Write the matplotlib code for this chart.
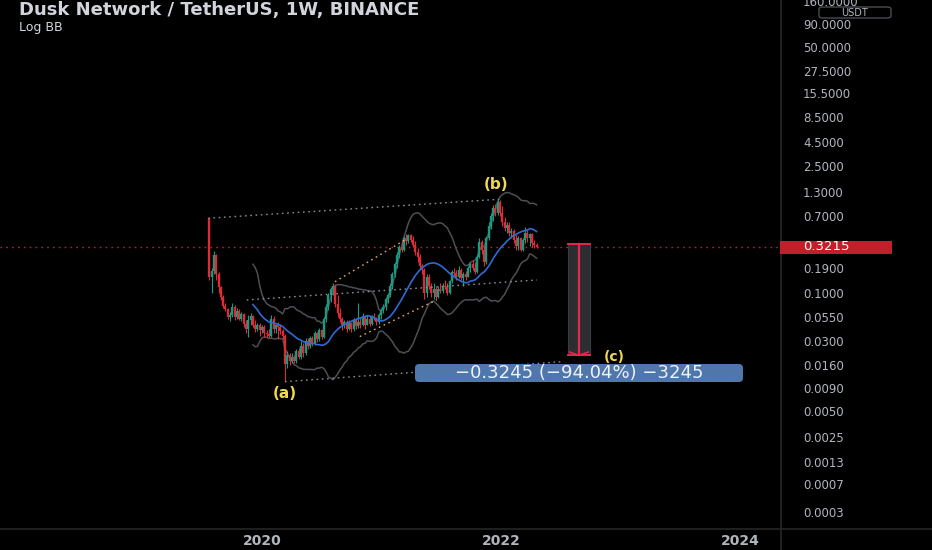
import numpy as np
import pandas as pd
import matplotlib
matplotlib.use("Agg")
import matplotlib.pyplot as plt
import matplotlib.dates as mdates
from matplotlib.patches import Rectangle, FancyBboxPatch
from matplotlib.lines import Line2D

# ---------------- data (weekly DUSK/USDT) ----------------
first_week = "2019-07-22"
first_open = 0.66
close = [0.150, 0.175, 0.26, 0.16, 0.115, 0.09, 0.072, 0.066, 0.054, 0.058,
         0.07, 0.054, 0.063, 0.052, 0.059, 0.046, 0.04, 0.05, 0.056, 0.045,
         0.04, 0.045, 0.039, 0.042, 0.036, 0.035, 0.034, 0.052, 0.04, 0.044,
         0.042, 0.038, 0.034, 0.0165, 0.021, 0.018, 0.02, 0.018, 0.023, 0.02,
         0.026, 0.022, 0.03, 0.026, 0.032, 0.028, 0.036, 0.031, 0.039, 0.033,
         0.052, 0.07, 0.095, 0.11, 0.12, 0.075, 0.06, 0.052, 0.044, 0.048,
         0.04, 0.047, 0.04, 0.05, 0.043, 0.048, 0.045, 0.055, 0.045, 0.052,
         0.046, 0.055, 0.053, 0.048, 0.058, 0.065, 0.07, 0.085, 0.095, 0.12,
         0.16, 0.21, 0.26, 0.32, 0.30, 0.40, 0.37, 0.43, 0.38, 0.34,
         0.28, 0.25, 0.20, 0.18, 0.10, 0.15, 0.12, 0.10, 0.11, 0.09,
         0.11, 0.105, 0.12, 0.115, 0.10, 0.135, 0.17, 0.165, 0.15, 0.18,
         0.145, 0.16, 0.15, 0.19, 0.21, 0.19, 0.17, 0.25, 0.36, 0.30,
         0.22, 0.40, 0.55, 0.70, 0.85, 0.75, 1.00, 0.75, 0.60, 0.52,
         0.56, 0.45, 0.48, 0.38, 0.33, 0.40, 0.30, 0.38, 0.46, 0.40,
         0.44, 0.35, 0.34, 0.3215]
high = [0.67, 0.19, 0.29, 0.27, 0.17, 0.12, 0.095, 0.078, 0.068, 0.062,
        0.077, 0.073, 0.068, 0.066, 0.062, 0.06, 0.05, 0.058, 0.06, 0.058,
        0.05, 0.047, 0.047, 0.044, 0.044, 0.039, 0.04, 0.058, 0.056, 0.046,
        0.048, 0.046, 0.04, 0.035, 0.023, 0.022, 0.022, 0.021, 0.024, 0.025,
        0.03, 0.028, 0.032, 0.032, 0.034, 0.034, 0.038, 0.037, 0.041, 0.04,
        0.055, 0.075, 0.1, 0.115, 0.13, 0.125, 0.095, 0.068, 0.055, 0.05,
        0.05, 0.05, 0.048, 0.053, 0.052, 0.078, 0.055, 0.06, 0.058, 0.057,
        0.056, 0.058, 0.06, 0.055, 0.06, 0.068, 0.075, 0.09, 0.1, 0.13,
        0.17, 0.22, 0.28, 0.34, 0.38, 0.42, 0.44, 0.44, 0.44, 0.42,
        0.37, 0.31, 0.27, 0.21, 0.19, 0.16, 0.16, 0.13, 0.13, 0.115,
        0.12, 0.13, 0.13, 0.14, 0.13, 0.14, 0.18, 0.19, 0.18, 0.2,
        0.19, 0.17, 0.175, 0.2, 0.22, 0.23, 0.22, 0.26, 0.40, 0.38,
        0.33, 0.42, 0.60, 0.75, 0.92, 0.95, 1.10, 1.05, 0.90, 0.68,
        0.60, 0.60, 0.52, 0.50, 0.43, 0.42, 0.41, 0.40, 0.53, 0.50,
        0.46, 0.45, 0.38, 0.35]
low = [0.139, 0.10, 0.16, 0.14, 0.10, 0.083, 0.068, 0.063, 0.052, 0.049,
       0.055, 0.05, 0.052, 0.05, 0.049, 0.042, 0.036, 0.033, 0.044, 0.042,
       0.037, 0.038, 0.034, 0.036, 0.033, 0.033, 0.032, 0.033, 0.036, 0.036,
       0.031, 0.035, 0.031, 0.0107, 0.015, 0.016, 0.017, 0.017, 0.017, 0.019,
       0.019, 0.02, 0.021, 0.024, 0.025, 0.026, 0.027, 0.029, 0.03, 0.031,
       0.032, 0.048, 0.065, 0.08, 0.095, 0.07, 0.055, 0.048, 0.039, 0.041,
       0.037, 0.039, 0.037, 0.038, 0.04, 0.041, 0.041, 0.043, 0.04, 0.044,
       0.043, 0.045, 0.05, 0.045, 0.046, 0.052, 0.06, 0.065, 0.078, 0.09,
       0.11, 0.15, 0.19, 0.24, 0.28, 0.29, 0.34, 0.35, 0.36, 0.32,
       0.26, 0.22, 0.19, 0.16, 0.085, 0.09, 0.11, 0.09, 0.085, 0.083,
       0.088, 0.10, 0.10, 0.11, 0.095, 0.098, 0.13, 0.15, 0.14, 0.145,
       0.14, 0.12, 0.14, 0.148, 0.17, 0.18, 0.16, 0.165, 0.24, 0.27,
       0.20, 0.21, 0.38, 0.50, 0.62, 0.70, 0.72, 0.70, 0.55, 0.48,
       0.45, 0.42, 0.40, 0.35, 0.30, 0.30, 0.29, 0.29, 0.35, 0.36,
       0.33, 0.32, 0.31, 0.315]

# price-axis labels and time-axis labels
price_ticks = [160, 90, 50, 27.5, 15.5, 8.5, 4.5, 2.5, 1.3, 0.7, 0.19,
               0.1, 0.055, 0.03, 0.016, 0.009, 0.005, 0.0025, 0.0013, 0.0007, 0.0003]
year_ticks = ["2020-01-01", "2022-01-01", "2024-01-01"]
year_labels = ["2020", "2022", "2024"]

# drawings on the chart (anchor date, price)
upper_channel = [("2019-07-18", 0.661), ("2021-12-22", 1.068)]
lower_channel = [("2020-03-09", 0.01055), ("2022-06-30", 0.0175)]
mid_line = [("2019-11-13", 0.0839), ("2022-04-19", 0.139)]
orange_upper = [("2020-08-09", 0.133), ("2021-03-11", 0.382)]
orange_lower = [("2020-10-24", 0.0332), ("2021-06-16", 0.0839)]
measure_dates = ("2022-07-23", "2022-09-28")
measure_start = 0.34507
measure_change = -0.3245
min_tick = 0.0001
wave_a_idx, wave_b_idx = 33, 126
wave_c_point = ("2022-12-13", 0.0200)

# ---------------- style ----------------
W, H = 932, 550
AX_R, AX_B = 780, 529
BG = "#000000"
TXT = "#b2b5be"
GREEN = "#1a9a80"
RED = "#dd2c36"
BLUE = "#2e6bd6"
BAND = "#4e4f55"
DOT_GRAY = "#8a8d96"
ORANGE = "#e3a86c"
PRICE_RED = "#b8222e"
MEAS_RED = "#e8254a"
WAVE = "#f2d84e"
SEP = "#262626"

OFF = 1e-4  # TradingView-like log offset


def fwd(p):
    p = np.asarray(p, dtype=float)
    return np.log10(np.clip(p + OFF, 1e-12, None))


def inv(y):
    return 10.0 ** np.asarray(y, dtype=float) - OFF


fig = plt.figure(figsize=(W / 100, H / 100), dpi=100, facecolor=BG)
ax = fig.add_axes([0, 1 - AX_B / H, AX_R / W, AX_B / H])
ax.set_facecolor(BG)
ax.set_yscale("function", functions=(fwd, inv))
ax.set_ylim(0.0001576, 164.2)
ax.set_xlim(mdates.date2num(pd.Timestamp("2017-10-19")),
            mdates.date2num(pd.Timestamp("2024-05-02")))

close = np.array(close)
high = np.array(high)
low = np.array(low)
weeks = pd.date_range(first_week, periods=len(close), freq="7D")
x = mdates.date2num(weeks)
opens = np.r_[first_open, close[:-1]]
cols = np.where(close >= opens, GREEN, RED)

# Log Bollinger Bands (20, 2)
lc = pd.Series(np.log(close))
mean = lc.rolling(20).mean()
sd = lc.rolling(20).std(ddof=0)
basis = np.exp(mean)
upper = np.exp(mean + 2 * sd)
lower = np.exp(mean - 2 * sd)
ax.plot(x, upper, color=BAND, lw=1.1, zorder=2)
ax.plot(x, lower, color=BAND, lw=1.1, zorder=2)
ax.plot(x, basis, color=BLUE, lw=1.2, zorder=4)

# candles
ax.vlines(x, low, high, colors=cols, lw=0.8, zorder=3)
ax.vlines(x, np.minimum(opens, close), np.maximum(opens, close), colors=cols, lw=1.7, zorder=3)


def dline(pts, color, dashes=(1.2, 2.6), lw=1.0):
    xs = [mdates.date2num(pd.Timestamp(d)) for d, _ in pts]
    ys = [p for _, p in pts]
    ax.plot(xs, ys, color=color, lw=lw, dashes=dashes, zorder=5)


dline(upper_channel, DOT_GRAY)
dline(lower_channel, DOT_GRAY)
dline(mid_line, DOT_GRAY)
dline(orange_upper, ORANGE)
dline(orange_lower, ORANGE)

# last price line
ax.axhline(close[-1], color=PRICE_RED, lw=1.0, dashes=(1.2, 3), zorder=1)

# measure tool
mx0 = mdates.date2num(pd.Timestamp(measure_dates[0]))
mx1 = mdates.date2num(pd.Timestamp(measure_dates[1]))
mxc = (mx0 + mx1) / 2
m_end = measure_start + measure_change
ax.add_patch(Rectangle((mx0, m_end), mx1 - mx0, measure_start - m_end,
                       facecolor="#2c2d31", edgecolor="#3a3b40", lw=0.8, zorder=5))
ax.plot([mx0, mx1], [measure_start, measure_start], color=MEAS_RED, lw=1.4, zorder=6)
ax.plot([mx0, mx1], [m_end, m_end], color=MEAS_RED, lw=1.4, zorder=6)
ax.plot([mxc, mxc], [measure_start, m_end], color=MEAS_RED, lw=1.6, zorder=6)
ax.plot([mx0 + (mx1 - mx0) * 0.08, mxc, mx1 - (mx1 - mx0) * 0.08],
        [m_end * 1.09, m_end, m_end * 1.09], color=MEAS_RED, lw=1.2, zorder=6)

pct = measure_change / measure_start * 100
ticks_n = int(round(abs(measure_change) / min_tick))
label = f"\u2212{abs(measure_change):.4f} (\u2212{abs(pct):.2f}%) \u2212{ticks_n}"
bx0, bx1 = 415 / AX_R, 743 / AX_R
by0, by1 = (AX_B - 382) / AX_B, (AX_B - 364) / AX_B
r = 4 / AX_R
ax.add_patch(FancyBboxPatch((bx0 + r, by0 + r * AX_R / AX_B), bx1 - bx0 - 2 * r,
                            by1 - by0 - 2 * r * AX_R / AX_B,
                            boxstyle=f"round,pad={r},rounding_size={r}",
                            mutation_aspect=AX_R / AX_B,
                            transform=ax.transAxes, facecolor="#4f77ab",
                            edgecolor="none", zorder=7))
ax.text((bx0 + bx1) / 2, (by0 + by1) / 2, label, transform=ax.transAxes,
        ha="center", va="center", color="#eef2f8", fontsize=13, zorder=8)

# wave labels
ax.annotate("(a)", (x[wave_a_idx], low[wave_a_idx]), xytext=(0, -9), textcoords="offset points",
            ha="center", va="center", color=WAVE, fontsize=11, fontweight="bold", zorder=8)
ax.annotate("(b)", (x[wave_b_idx], high[wave_b_idx]), xytext=(-1, 10), textcoords="offset points",
            ha="center", va="center", color=WAVE, fontsize=11, fontweight="bold", zorder=8)
ax.text(mdates.date2num(pd.Timestamp(wave_c_point[0])), wave_c_point[1], "(c)",
        ha="center", va="center", color=WAVE, fontsize=10, fontweight="bold", zorder=8)

# axes styling
for s in ax.spines.values():
    s.set_visible(False)
ax.yaxis.tick_right()
ax.set_yticks(price_ticks)
ax.set_yticklabels([f"{t:.4f}" for t in price_ticks])
ax.yaxis.set_minor_locator(matplotlib.ticker.NullLocator())
ax.tick_params(axis="y", length=0, pad=16.5, labelsize=8.5, labelcolor=TXT)
ax.set_xticks([mdates.date2num(pd.Timestamp(d)) for d in year_ticks])
ax.set_xticklabels(year_labels)
ax.tick_params(axis="x", length=0, pad=3.5, labelsize=10, labelcolor=TXT)
for t in ax.get_xticklabels():
    t.set_fontweight("bold")

# separators
fig.add_artist(Line2D([AX_R / W + 0.5 / W] * 2, [0, 1], color=SEP, lw=1.2))
fig.add_artist(Line2D([0, 1], [1 - AX_B / H] * 2, color=SEP, lw=1.2))

# price badge
fig.add_artist(Rectangle((AX_R / W, 1 - 254 / H), 112 / W, 13.5 / H,
                         transform=fig.transFigure, facecolor="#c0202a", edgecolor="none", zorder=10))
fig.text(803 / W, 1 - 247 / H, f"{close[-1]:.4f}", color="white", fontsize=9.5,
         ha="left", va="center", zorder=11)

# currency badge
fig.add_artist(FancyBboxPatch((819 / W, 1 - 18 / H), 72 / W, 11 / H,
                              boxstyle="round,pad=0,rounding_size=0.004",
                              transform=fig.transFigure, facecolor=BG,
                              edgecolor="#4a4c52", lw=1.0, zorder=10))
fig.text(855 / W, 1 - 12.8 / H, "USDT", color=TXT, fontsize=7, ha="center", va="center",
         zorder=11)

# titles
fig.text(19 / W, 1 - 10 / H, "Dusk Network / TetherUS, 1W, BINANCE", color="#d1d4dc",
         fontsize=13, fontweight="bold", ha="left", va="center")
fig.text(19 / W, 1 - 27 / H, "Log BB", color="#d1d4dc", fontsize=9, ha="left", va="center")

fig.savefig("out.png", dpi=100, facecolor=BG)
